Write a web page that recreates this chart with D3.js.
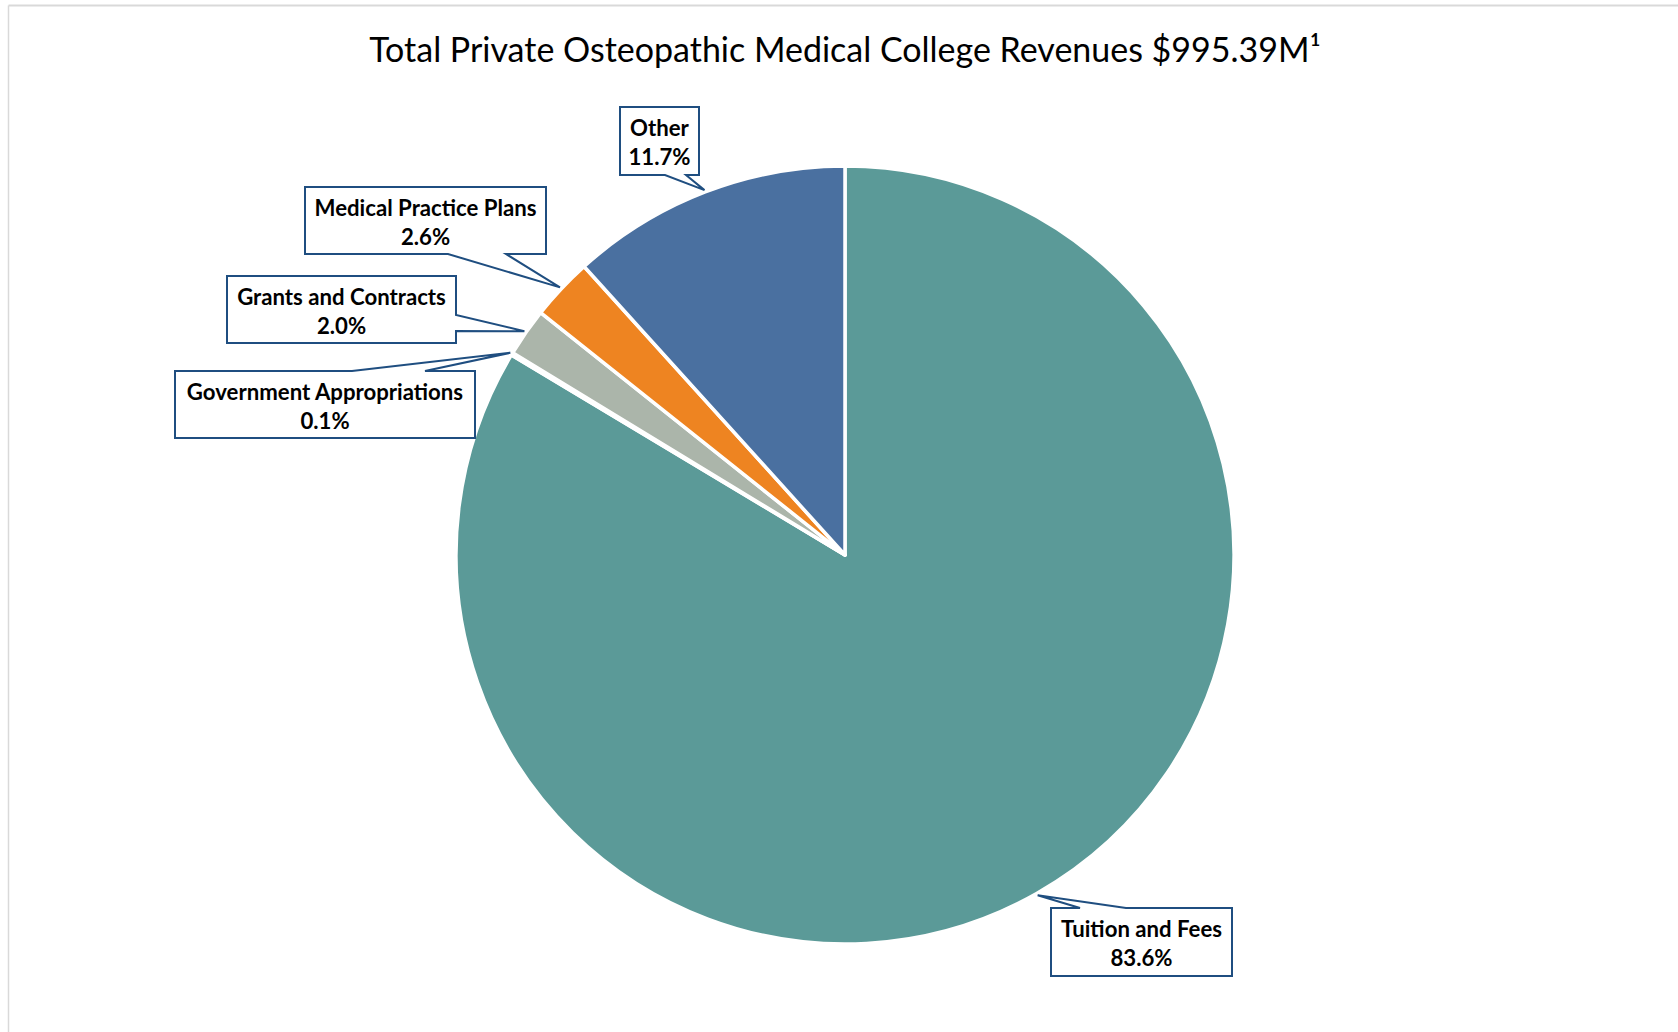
<!DOCTYPE html>
<html>
<head>
<meta charset="utf-8">
<script src="https://cdn.jsdelivr.net/npm/d3@7"></script>
<style>
  body { margin: 0; background: #fff; }
  svg { display: block; }
</style>
</head>
<body>
<script>
// chart data (clockwise from 12 o'clock, as in the original)
var categories = ["Tuition and Fees", "Government Appropriations", "Grants and Contracts", "Medical Practice Plans", "Other"];
var shares = [83.6, 0.1, 2.0, 2.6, 11.7];
var pctLabels = ["83.6%", "0.1%", "2.0%", "2.6%", "11.7%"];
var sliceColors = ["#5B9A98", "#7F8F8C", "#ABB5AA", "#EE8421", "#4A70A0"];
var titleText = "Total Private Osteopathic Medical College Revenues $995.39M\u00B9";

// callout boxes (layout only): box corner/size, edge the pointer leaves from, pointer base offsets
var callouts = [
  {x: 1051, y: 908, w: 181, h: 68, side: "top",    a: 29,  b: 75},
  {x: 175,  y: 371, w: 300, h: 67, side: "top",    a: 177, b: 250},
  {x: 227,  y: 276, w: 229, h: 67, side: "right",  a: 39,  b: 55},
  {x: 305,  y: 187, w: 241, h: 67, side: "bottom", a: 143, b: 201},
  {x: 620,  y: 107, w: 79,  h: 68, side: "bottom", a: 45,  b: 66}
];

var W = 1678, H = 1032;
var cx = 845, cy = 555, radius = 389;

var svg = d3.select("body").append("svg")
  .attr("width", W)
  .attr("height", H);

// chart area frame (only top and left edges are in view)
svg.append("line").attr("x1", 8.5).attr("y1", 5.5).attr("x2", W).attr("y2", 5.5)
  .attr("stroke", "#D9D9D9").attr("stroke-width", 2);
svg.append("line").attr("x1", 8.5).attr("y1", 5.5).attr("x2", 8.5).attr("y2", H)
  .attr("stroke", "#D9D9D9").attr("stroke-width", 1.5);

// title, fitted to the width it has in the picture
var title = svg.append("text")
  .attr("x", cx)
  .attr("y", 62)
  .attr("text-anchor", "middle")
  .style("font-family", "Lato, 'Open Sans', sans-serif")
  .style("font-size", "34px")
  .style("fill", "#000")
  .text(titleText);
var tl = title.node().getComputedTextLength();
title.style("font-size", (34 * 952 / tl) + "px");

// pie
var data = categories.map(function(c, i) {
  return {name: c, value: shares[i], pct: pctLabels[i], color: sliceColors[i], box: callouts[i]};
});

var pie = d3.pie().sort(null).value(function(d) { return d.value; });
var arc = d3.arc().innerRadius(0).outerRadius(radius);
var tipArc = d3.arc().innerRadius(radius + 2).outerRadius(radius + 2);

var g = svg.append("g").attr("transform", "translate(" + cx + "," + cy + ")");
var arcs = pie(data);

g.selectAll("path.slice")
  .data(arcs)
  .enter()
  .append("path")
  .attr("class", "slice")
  .attr("d", arc)
  .attr("fill", function(d) { return d.data.color; })
  .attr("stroke", "#fff")
  .attr("stroke-width", 3.5)
  .attr("stroke-linejoin", "round");

// callout path: box outline with a wedge cut to the tip
function calloutPath(b, tip) {
  var x0 = b.x, y0 = b.y, x1 = b.x + b.w, y1 = b.y + b.h;
  var p = d3.path();
  p.moveTo(x0, y0);
  if (b.side === "top") {
    p.lineTo(x0 + b.a, y0); p.lineTo(tip[0], tip[1]); p.lineTo(x0 + b.b, y0);
  }
  p.lineTo(x1, y0);
  if (b.side === "right") {
    p.lineTo(x1, y0 + b.a); p.lineTo(tip[0], tip[1]); p.lineTo(x1, y0 + b.b);
  }
  p.lineTo(x1, y1);
  if (b.side === "bottom") {
    p.lineTo(x0 + b.b, y1); p.lineTo(tip[0], tip[1]); p.lineTo(x0 + b.a, y1);
  }
  p.lineTo(x0, y1);
  p.closePath();
  return p.toString();
}

var labels = svg.append("g").attr("class", "labels");

arcs.forEach(function(d) {
  var c = tipArc.centroid(d);
  var tip = [cx + c[0], cy + c[1]];
  var b = d.data.box;
  labels.append("path")
    .attr("d", calloutPath(b, tip))
    .attr("fill", "#fff")
    .attr("stroke", "#1F4E80")
    .attr("stroke-width", 2)
    .attr("stroke-linejoin", "miter");
  var t = labels.append("text")
    .attr("class", "lbl")
    .attr("text-anchor", "middle")
    .style("font-family", "Lato, 'Open Sans', sans-serif")
    .style("font-weight", "bold")
    .style("font-size", "20px")
    .style("fill", "#000");
  t.append("tspan").attr("x", b.x + b.w / 2).attr("y", b.y + 29).text(d.data.name);
  t.append("tspan").attr("x", b.x + b.w / 2).attr("y", b.y + 58).text(d.data.pct);
});

// scale label font so "Medical Practice Plans" spans ~222px as in the picture
var ref = labels.selectAll("text.lbl").nodes()[3].querySelector("tspan");
var rl = ref.getComputedTextLength();
labels.selectAll("text.lbl").style("font-size", (20 * 222 / rl) + "px");
</script>
</body>
</html>
